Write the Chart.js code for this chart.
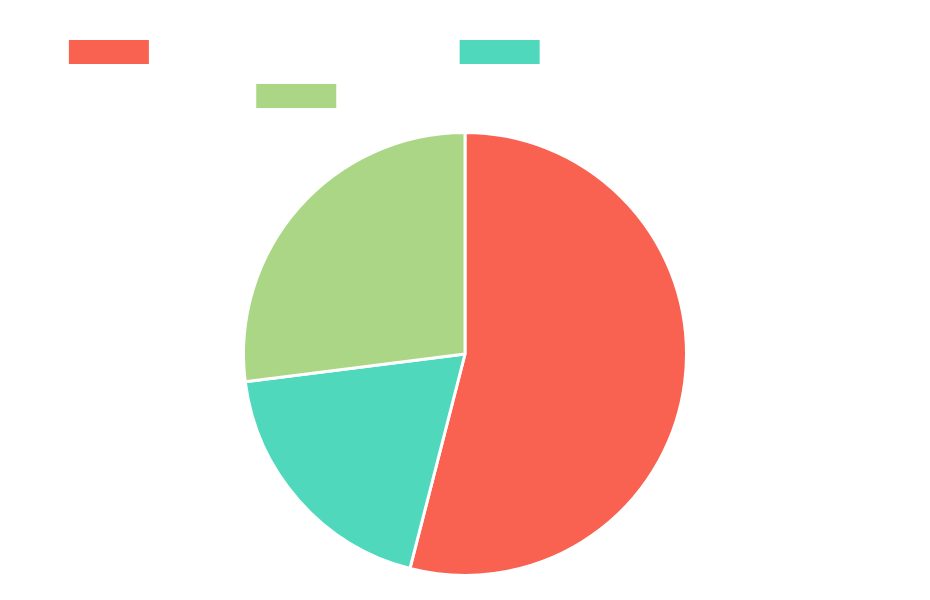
<!DOCTYPE html>
<html>
<head>
<meta charset="utf-8">
<script src="https://cdn.jsdelivr.net/npm/chart.js@4"></script>
<style>
  html, body { margin: 0; padding: 0; background: #ffffff; }
  #wrap { width: 930px; height: 600px; }
</style>
</head>
<body>
<div id="wrap"><canvas id="pieChart"></canvas></div>
<script>
const labels = ['Produits Alimentaires frais', 'Articles ménagers ou maison', 'Vêtements et accessoires luxe'];
const values = [54, 19, 27];
const colors = ['#f96251', '#4fd8bb', '#aad685'];

const ctx = document.getElementById('pieChart').getContext('2d');

// a bit more room under the legend
const legendMargin = {
  id: 'legendMargin',
  beforeInit(chart) {
    const fit = chart.legend.fit;
    chart.legend.fit = function () {
      fit.bind(chart.legend)();
      this.height += 13;
    };
  }
};

new Chart(ctx, {
  type: 'pie',
  data: {
    labels: labels,
    datasets: [{
      data: values,
      backgroundColor: colors,
      borderColor: '#ffffff',
      borderWidth: 3
    }]
  },
  options: {
    responsive: true,
    maintainAspectRatio: false,
    animation: false,
    layout: { padding: { top: 20, left: 20, right: 20, bottom: 23 } },
    plugins: {
      legend: {
        position: 'top',
        labels: {
          boxWidth: 80,
          padding: 20,
          color: '#ffffff',
          font: { size: 24 },
          generateLabels(chart) {
            const items = Chart.overrides.pie.plugins.legend.labels.generateLabels(chart);
            items.forEach(it => { it.lineWidth = 0; });
            return items;
          }
        }
      },
      tooltip: { enabled: false }
    }
  },
  plugins: [legendMargin]
});
</script>
</body>
</html>
